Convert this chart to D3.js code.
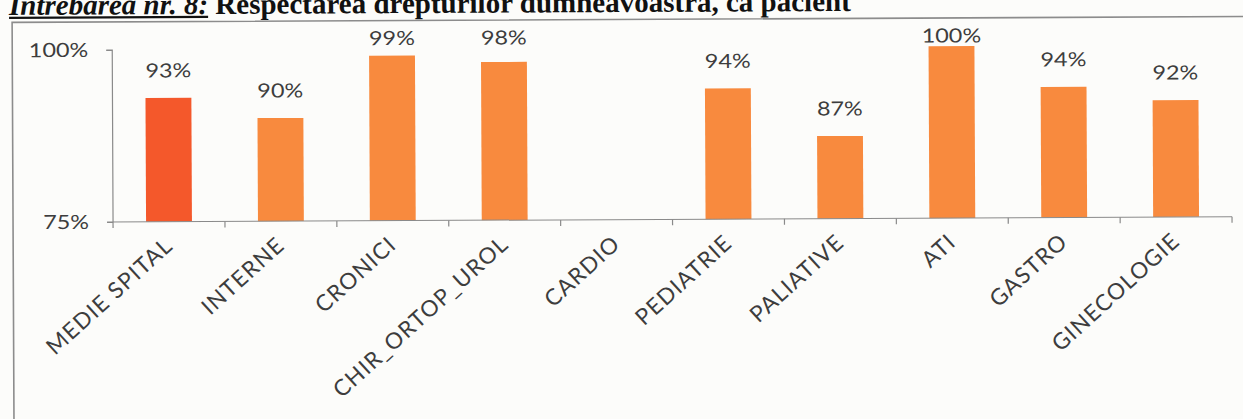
<!DOCTYPE html>
<html>
<head>
<meta charset="utf-8">
<script src="https://cdn.jsdelivr.net/npm/d3@7"></script>
<style>
  html, body { margin: 0; padding: 0; background: #fcfcfa; }
  svg { display: block; }
</style>
</head>
<body>
<script>
// ---- data ----
const categories = ["MEDIE SPITAL", "INTERNE", "CRONICI", "CHIR_ORTOP_UROL", "CARDIO",
                    "PEDIATRIE", "PALIATIVE", "ATI", "GASTRO", "GINECOLOGIE"];
const values = [93, 90, 99, 98, null, 94, 87, 100, 94, 92];
const yTickValues = [75, 100];
const titleItalic = "Intrebarea nr. 8:";
const titleRest = " Respectarea drepturilor dumneavoastra, ca pacient";

// ---- layout ----
const W = 1243, H = 419;
const sx = 1.2;                 // horizontal stretch of the scanned chart
const font = "Lato, 'Noto Sans', sans-serif";
const textColor = "#3d3d3d";
const axisColor = "#8a8a8a";

const svg = d3.select("body").append("svg").attr("width", W).attr("height", H);
svg.append("rect").attr("width", W).attr("height", H).attr("fill", "#fcfcfa");

const root = svg.append("g").attr("transform", "rotate(-0.27, 620, 210)");

// title
const title = root.append("text")
  .attr("x", 10).attr("y", 12)
  .attr("font-family", "'Liberation Serif', 'Times New Roman', serif")
  .attr("font-weight", "bold")
  .attr("font-size", 29)
  .attr("fill", "#111");
const tItal = title.append("tspan").attr("font-style", "italic").text(titleItalic);
title.append("tspan").text(titleRest);
const italW = tItal.node().getComputedTextLength();
root.append("line")
  .attr("x1", 10).attr("x2", 10 + italW)
  .attr("y1", 15).attr("y2", 15)
  .attr("stroke", "#111").attr("stroke-width", 2.2);

// frame
root.append("path")
  .attr("d", `M13,${H + 10} L13,19.5 L${W + 10},19.5`)
  .attr("fill", "none").attr("stroke", "#8c8c8c").attr("stroke-width", 1.6);

// stretched chart group
const g = root.append("g").attr("transform", `scale(${sx},1)`);

const x0 = 113 / sx, x1 = 1232 / sx;
const x = d3.scaleBand().domain(categories).range([x0, x1])
  .paddingInner(0.59).paddingOuter(0.295);
const y = d3.scaleLinear().domain([75, 100]).range([219.6, 47.6]);

// bars
g.selectAll("rect.bar")
  .data(categories.map((c, i) => ({ c, v: values[i], i })).filter(d => d.v != null))
  .join("rect")
  .attr("class", "bar")
  .attr("x", d => x(d.c))
  .attr("width", x.bandwidth())
  .attr("y", d => y(d.v))
  .attr("height", d => y(75) - y(d.v))
  .attr("fill", d => d.i === 0 ? "#f4582b" : "#f88a3e");

// value labels
g.selectAll("text.val")
  .data(categories.map((c, i) => ({ c, v: values[i] })).filter(d => d.v != null))
  .join("text")
  .attr("class", "val")
  .attr("x", d => x(d.c) + x.bandwidth() / 2)
  .attr("y", d => Math.max(y(d.v) - 20.5, 44))
  .attr("text-anchor", "middle")
  .attr("font-family", font).attr("font-size", 19.5)
  .attr("fill", textColor)
  .text(d => d.v + "%");

// y axis
const yAxis = g.append("g").attr("transform", `translate(${x0},0)`)
  .call(d3.axisLeft(y).tickValues(yTickValues).tickSize(6 / sx).tickPadding(15)
    .tickFormat(d => d + "%"));
yAxis.select(".domain").attr("stroke", axisColor).attr("d", `M${-6 / sx},${y(100)}H0V${y(75)}`);
yAxis.selectAll(".tick line").attr("stroke", axisColor);
yAxis.selectAll(".tick text").attr("font-family", font).attr("font-size", 19.5).attr("fill", textColor);

// x axis line and boundary ticks
const xAxis = g.append("g").attr("transform", `translate(0,${y(75)})`)
  .call(d3.axisBottom(x).tickSize(0).tickFormat(""));
xAxis.select(".domain").attr("stroke", axisColor).attr("d", `M${x0 - 6 / sx},0H${x1}`);
const bounds = d3.range(categories.length + 1).map(i => x0 + i * x.step());
xAxis.selectAll("line.bound").data(bounds).join("line")
  .attr("class", "bound")
  .attr("x1", d => d).attr("x2", d => d)
  .attr("y1", 0).attr("y2", 6)
  .attr("stroke", axisColor);

// category labels (drawn unstretched, rotated)
root.append("g").selectAll("text.cat")
  .data(categories)
  .join("text")
  .attr("class", "cat")
  .attr("font-family", font).attr("font-size", 22.5).attr("fill", textColor)
  .attr("letter-spacing", 1.2)
  .attr("text-anchor", "end")
  .attr("transform", d => `translate(${sx * (x(d) + x.bandwidth() / 2) + 5},${y(75) + 26}) rotate(-42)`)
  .text(d => d);
</script>
</body>
</html>
